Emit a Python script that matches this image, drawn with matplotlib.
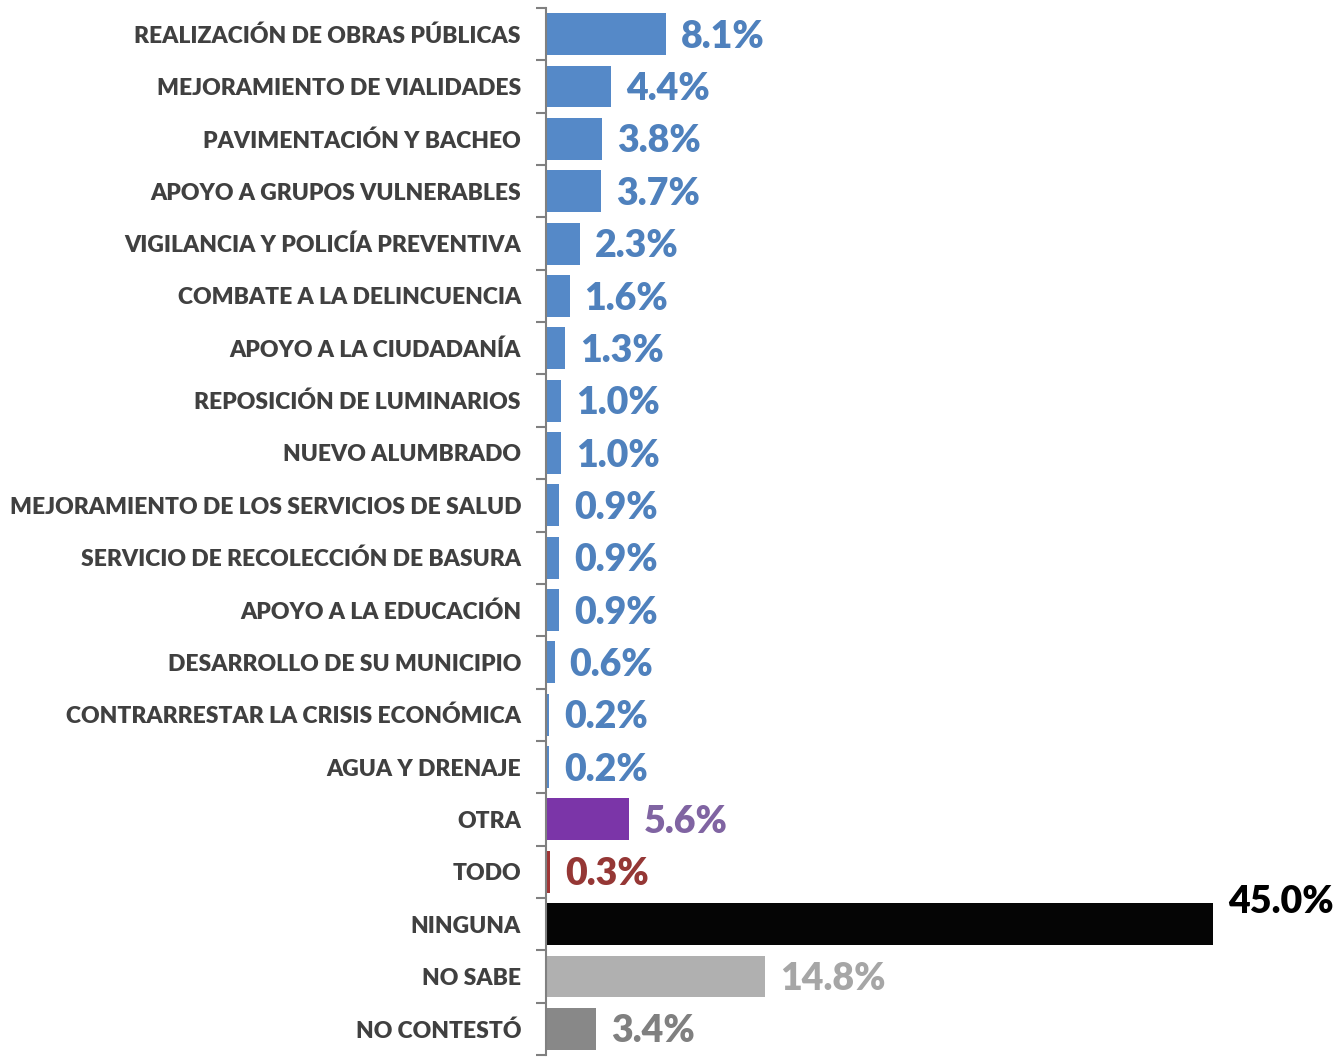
import matplotlib.pyplot as plt
from matplotlib.ticker import FixedLocator

categories = [
    "REALIZACIÓN DE OBRAS PÚBLICAS",
    "MEJORAMIENTO DE VIALIDADES",
    "PAVIMENTACIÓN Y BACHEO",
    "APOYO A GRUPOS VULNERABLES",
    "VIGILANCIA Y POLICÍA PREVENTIVA",
    "COMBATE A LA DELINCUENCIA",
    "APOYO A LA CIUDADANÍA",
    "REPOSICIÓN DE LUMINARIOS",
    "NUEVO ALUMBRADO",
    "MEJORAMIENTO DE LOS SERVICIOS DE SALUD",
    "SERVICIO DE RECOLECCIÓN DE BASURA",
    "APOYO A LA EDUCACIÓN",
    "DESARROLLO DE SU MUNICIPIO",
    "CONTRARRESTAR LA CRISIS ECONÓMICA",
    "AGUA Y DRENAJE",
    "OTRA",
    "TODO",
    "NINGUNA",
    "NO SABE",
    "NO CONTESTÓ",
]
values = [8.1, 4.4, 3.8, 3.7, 2.3, 1.6, 1.3, 1.0, 1.0, 0.9, 0.9, 0.9, 0.6, 0.2, 0.2,
          5.6, 0.3, 45.0, 14.8, 3.4]

blue = "#5589C8"
bar_colors = [blue] * 15 + ["#7B35A8", "#A03535", "#050505", "#B0B0B0", "#888888"]
label_colors = ["#4F81BD"] * 15 + ["#8064A2", "#953735", "#000000", "#A6A6A6", "#808080"]

plt.rcParams['font.family'] = ['Lato', 'DejaVu Sans']

fig = plt.figure(figsize=(13.44, 10.59), dpi=100)
ax = fig.add_axes([546 / 1344, 4 / 1059, 798 / 1344, 1047 / 1059])

y = list(range(len(categories)))
ax.barh(y, values, height=0.8, color=bar_colors)

ax.set_ylim(len(categories) - 0.5, -0.5)
ax.set_xlim(0, 798 / 14.82)

for i, (v, c) in enumerate(zip(values, label_colors)):
    # the big bar's label sits raised, as in the source chart
    dy = -0.42 if v > 40 else 0.05
    ax.text(v + 1.0, i + dy, f"{v:.1f}%", va="center", ha="left",
            fontsize=27, fontweight="heavy", color=c)

ax.set_yticks(y)
ax.set_yticklabels(categories, fontsize=16.5, fontweight="heavy", color="#404040")
ax.tick_params(axis="y", which="major", length=0, pad=18)
ax.yaxis.set_minor_locator(FixedLocator([i - 0.5 for i in range(len(categories) + 1)]))
ax.tick_params(axis="y", which="minor", length=7, width=1.5, color="#808080")

ax.set_xticks([])
for s in ["top", "right", "bottom"]:
    ax.spines[s].set_visible(False)
ax.spines["left"].set_color("#808080")
ax.spines["left"].set_linewidth(1.5)

fig.savefig("out.png", dpi=100)
